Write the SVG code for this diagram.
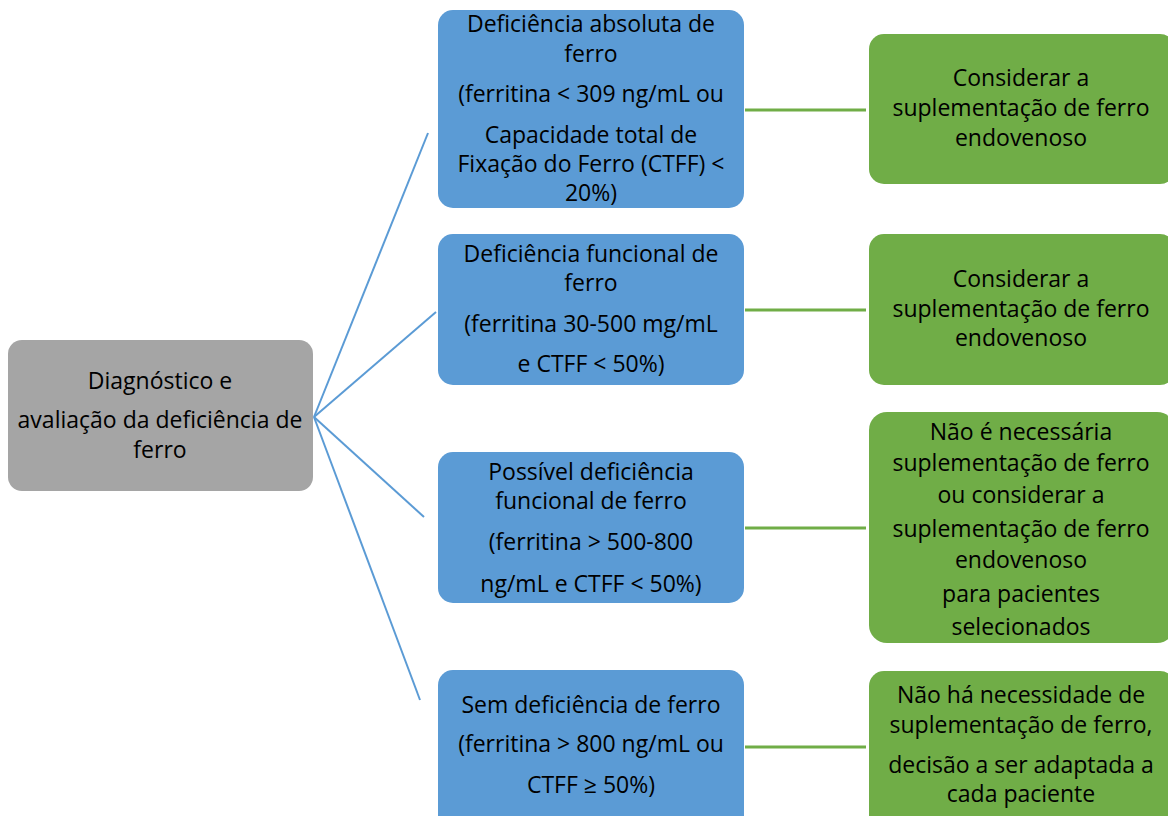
<svg xmlns="http://www.w3.org/2000/svg" width="1168" height="816" viewBox="0 0 1168 816">
<style>
.t{font-family:"Open Sans","Liberation Sans",sans-serif;font-size:23px;fill:#000;text-anchor:middle}
.gray{fill:#A5A5A5}
.blue{fill:#5B9BD5}
.green{fill:#70AD47}
.cb{stroke:#5B9BD5;stroke-width:2;fill:none}
.cg{stroke:#70AD47;stroke-width:3;fill:none}
</style>
<rect width="1168" height="816" fill="#fff"/>
<g id="connectors">
<line class="cb" x1="314" y1="417" x2="428" y2="133"/>
<line class="cb" x1="314" y1="417" x2="436" y2="312"/>
<line class="cb" x1="314" y1="417" x2="424" y2="517"/>
<line class="cb" x1="314" y1="417" x2="420" y2="700"/>
<line class="cg" x1="745" y1="110" x2="866" y2="110"/>
<line class="cg" x1="745" y1="310" x2="866" y2="310"/>
<line class="cg" x1="745" y1="528" x2="866" y2="528"/>
<line class="cg" x1="745" y1="747" x2="866" y2="747"/>
</g>
<g id="root">
<rect class="gray" x="8" y="340" width="305" height="151" rx="14"/>
<text class="t" x="160" y="389">Diagnóstico e</text>
<text class="t" x="160" y="428">avaliação da deficiência de</text>
<text class="t" x="160" y="458">ferro</text>
</g>
<g id="b1">
<rect class="blue" x="438" y="10" width="306" height="198" rx="15"/>
<text class="t" x="591" y="32">Deficiência absoluta de</text>
<text class="t" x="591" y="62">ferro</text>
<text class="t" x="591" y="102">(ferritina &lt; 309 ng/mL ou</text>
<text class="t" x="591" y="143">Capacidade total de</text>
<text class="t" x="591" y="172">Fixação do Ferro (CTFF) &lt;</text>
<text class="t" x="591" y="201">20%)</text>
</g>
<g id="b2">
<rect class="blue" x="438" y="234" width="306" height="151" rx="15"/>
<text class="t" x="591" y="262">Deficiência funcional de</text>
<text class="t" x="591" y="291">ferro</text>
<text class="t" x="591" y="332">(ferritina 30-500 mg/mL</text>
<text class="t" x="591" y="372">e CTFF &lt; 50%)</text>
</g>
<g id="b3">
<rect class="blue" x="438" y="452" width="306" height="151" rx="15"/>
<text class="t" x="591" y="480">Possível deficiência</text>
<text class="t" x="591" y="509">funcional de ferro</text>
<text class="t" x="591" y="550">(ferritina &gt; 500-800</text>
<text class="t" x="591" y="592">ng/mL e CTFF &lt; 50%)</text>
</g>
<g id="b4">
<rect class="blue" x="438" y="670" width="306" height="160" rx="15"/>
<text class="t" x="591" y="713">Sem deficiência de ferro</text>
<text class="t" x="591" y="752">(ferritina &gt; 800 ng/mL ou</text>
<text class="t" x="591" y="793">CTFF ≥ 50%)</text>
</g>
<g id="g1">
<rect class="green" x="869" y="34" width="306" height="150" rx="15"/>
<text class="t" x="1021" y="86">Considerar a</text>
<text class="t" x="1021" y="116">suplementação de ferro</text>
<text class="t" x="1021" y="146">endovenoso</text>
</g>
<g id="g2">
<rect class="green" x="869" y="234" width="306" height="151" rx="15"/>
<text class="t" x="1021" y="287">Considerar a</text>
<text class="t" x="1021" y="317">suplementação de ferro</text>
<text class="t" x="1021" y="346">endovenoso</text>
</g>
<g id="g3">
<rect class="green" x="869" y="412" width="306" height="231" rx="18"/>
<text class="t" x="1021" y="440">Não é necessária</text>
<text class="t" x="1021" y="471">suplementação de ferro</text>
<text class="t" x="1021" y="503">ou considerar a</text>
<text class="t" x="1021" y="537">suplementação de ferro</text>
<text class="t" x="1021" y="568">endovenoso</text>
<text class="t" x="1021" y="602">para pacientes</text>
<text class="t" x="1021" y="635">selecionados</text>
</g>
<g id="g4">
<rect class="green" x="869" y="671" width="306" height="160" rx="15"/>
<text class="t" x="1021" y="703">Não há necessidade de</text>
<text class="t" x="1021" y="733">suplementação de ferro,</text>
<text class="t" x="1021" y="773">decisão a ser adaptada a</text>
<text class="t" x="1021" y="802">cada paciente</text>
</g>
</svg>
